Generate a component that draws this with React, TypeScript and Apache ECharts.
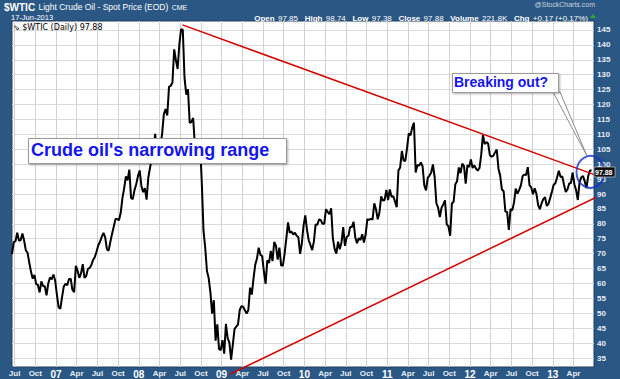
import React, { useEffect, useRef } from "react";
import * as echarts from "echarts";

// WTI weekly closes, one row per month, starting Jun 2006 (month index 5 counted from Jan 2006)
const FIRST_MONTH = 5;
const weeklyCloses: number[][] = [
  [71.0, 70.2, 70.0, 73.9], // Jun 06
  [74.1, 77.0, 74.4, 74.5],
  [76.8, 74.4, 71.1, 70.3],
  [67.0, 63.9, 61.6, 62.9],
  [59.8, 59.5, 57.0, 60.7],
  [59.1, 59.1, 56.0, 60.0],
  [62.0, 61.4, 63.0, 61.0],
  [56.3, 52.0, 51.5, 55.4], // Jan 07
  [59.0, 59.9, 59.4, 61.4],
  [61.6, 57.9, 57.1, 65.9],
  [64.3, 61.9, 63.4, 66.5],
  [61.9, 62.5, 64.9, 65.2],
  [66.2, 67.9, 68.9, 70.7],
  [72.8, 74.0, 75.6, 77.0],
  [75.5, 71.5, 71.0, 74.0],
  [76.7, 79.1, 81.6, 81.6],
  [81.2, 83.7, 88.6, 91.9],
  [95.9, 94.6, 98.2, 88.7],
  [88.3, 91.3, 93.3, 96.0],
  [97.9, 92.7, 90.6, 92.0], // Jan 08
  [88.1, 95.5, 98.8, 101.8],
  [105.2, 110.2, 101.8, 105.6],
  [106.2, 110.1, 116.7, 118.5],
  [116.3, 125.9, 126.3, 127.4],
  [138.5, 134.9, 131.9, 140.2],
  [145.3, 145.0, 128.9, 123.3],
  [125.1, 113.8, 114.2, 115.5],
  [106.2, 101.2, 104.6, 106.9],
  [93.9, 77.7, 71.9, 64.2],
  [61.8, 57.0, 49.9, 54.4],
  [40.8, 46.3, 38.0, 37.7],
  [41.0, 36.5, 46.5, 41.7], // Jan 09
  [40.2, 34.5, 39.5, 44.8],
  [45.5, 46.3, 51.1, 52.4],
  [52.2, 51.0, 49.9, 51.1],
  [58.6, 56.3, 61.7, 66.3],
  [68.4, 72.0, 69.6, 69.2],
  [64.1, 59.9, 67.8, 66.9],
  [70.9, 67.5, 73.9, 72.7],
  [68.0, 72.0, 66.0, 66.0],
  [69.9, 75.0, 80.5, 77.0],
  [77.4, 76.4, 77.0, 76.0],
  [75.5, 69.9, 73.4, 79.4],
  [82.8, 78.0, 74.5, 72.9], // Jan 10
  [71.2, 74.1, 79.8, 79.7],
  [81.5, 81.2, 80.0, 80.0],
  [84.9, 84.0, 83.2, 85.2],
  [75.1, 71.6, 70.0, 74.0],
  [71.5, 73.8, 78.9, 72.6],
  [75.6, 76.0, 78.9, 78.9],
  [80.7, 75.4, 73.5, 75.2],
  [74.6, 76.5, 73.7, 76.5],
  [81.6, 81.3, 81.7, 81.4],
  [86.9, 84.9, 81.5, 83.8],
  [89.2, 87.8, 88.0, 91.4],
  [88.0, 91.5, 89.1, 89.3], // Jan 11
  [87.5, 85.6, 97.9, 98.9],
  [104.4, 101.2, 101.1, 105.4],
  [110.3, 109.7, 112.3, 113.9],
  [97.2, 99.7, 99.5, 100.6],
  [99.3, 92.9, 91.2, 95.4],
  [96.2, 97.2, 99.9, 95.7],
  [86.9, 85.4, 82.3, 85.4],
  [86.5, 87.9, 79.8, 79.2],
  [76.0, 86.8, 87.4, 93.3],
  [94.3, 98.9, 97.0, 100.2],
  [99.4, 93.5, 99.7, 99.0],
  [101.6, 98.7, 99.6, 98.5], // Jan 12
  [97.8, 98.7, 103.2, 109.8],
  [106.7, 107.4, 106.9, 103.0],
  [102.5, 102.8, 103.9, 104.9],
  [98.5, 96.1, 91.5, 90.9],
  [84.1, 84.0, 78.0, 84.96],
  [84.5, 87.1, 91.8, 90.1],
  [91.4, 92.9, 96.0, 96.5],
  [96.4, 99.0, 92.9, 92.2],
  [89.9, 91.9, 90.1, 86.3],
  [84.9, 86.9, 88.3, 88.9],
  [86.0, 86.7, 88.7, 90.8],
  [93.1, 93.6, 95.6, 97.8], // Jan 13
  [95.7, 95.9, 93.1, 90.7],
  [91.5, 93.5, 93.7, 97.2],
  [93.3, 91.3, 88.0, 94.0],
  [95.6, 96.0, 94.3, 91.97],
  [96.0, 97.9, 97.88], // Jun 13
];

const xTickMonths = [6, 9, 12, 15, 18, 21, 24, 27, 30, 33, 36, 39, 42, 45, 48, 51, 54, 57, 60, 63, 66, 69, 72, 75, 78, 81, 84, 87];
const yTicks = [35, 40, 45, 50, 55, 60, 65, 70, 75, 80, 85, 90, 95, 100, 105, 110, 115, 120, 125, 130, 135, 140, 145];
const monthNames = ["Jan", "Feb", "Mar", "Apr", "May", "Jun", "Jul", "Aug", "Sep", "Oct", "Nov", "Dec"];

// trend lines: [month index, price]
const upperTrend = [[30.33, 146.7], [90.11, 96.4]];
const lowerTrend = [[37.21, 29.6], [91.56, 90.3]];
const circleMark = [[89.46, 97.4]];

const FONT = "Liberation Sans, Arial, sans-serif";

export default function App() {
  const ref = useRef<HTMLDivElement>(null);
  useEffect(() => {
    if (!ref.current) return;
    const chart = echarts.init(ref.current, undefined, { renderer: "svg" });
    const priceData: number[][] = [];
    weeklyCloses.forEach((row, i) => {
      row.forEach((v, k) => {
        priceData.push([FIRST_MONTH + i + (k + 0.5) / 4, v]);
      });
    });

    const option: any = {
      animation: false,
      backgroundColor: "#2a5784",
      grid: {
        left: 12,
        right: 26,
        top: 21,
        bottom: 12,
        show: true,
        backgroundColor: "#ffffff",
        borderColor: "#1e3f60",
        borderWidth: 1,
      },
      xAxis: {
        type: "value",
        min: 5.62,
        max: 89.97,
        axisLine: { show: false },
        axisTick: { show: false, customValues: xTickMonths },
        axisLabel: {
          customValues: xTickMonths,
          color: "#e6edf5",
          fontSize: 8,
          fontWeight: "bold",
          fontFamily: FONT,
          margin: 2,
          formatter: (v: number) => {
            const m = Math.round(v);
            const mo = ((m % 12) + 12) % 12;
            if (mo === 0) {
              const yr = 2006 + Math.floor(m / 12);
              return "{yr|" + String(yr % 100).padStart(2, "0") + "}";
            }
            return monthNames[mo];
          },
          rich: {
            yr: { color: "#ffffff", fontSize: 10, fontWeight: "bold", fontFamily: FONT },
          },
        },
        splitLine: { show: true, lineStyle: { color: "#d2d2d2", width: 1 } },
      },
      yAxis: {
        type: "value",
        position: "right",
        min: 32,
        max: 148,
        axisLine: { show: false },
        axisTick: { show: false, customValues: yTicks },
        axisLabel: {
          customValues: yTicks,
          color: "#e6edf5",
          fontSize: 8,
          fontWeight: "bold",
          fontFamily: FONT,
          margin: 3,
        },
        splitLine: { show: true, lineStyle: { color: "#dadada", width: 1 } },
      },
      series: [
        {
          type: "line",
          data: priceData,
          symbol: "none",
          lineStyle: { color: "#000000", width: 2 },
          z: 3,
          silent: true,
        },
        {
          type: "line",
          data: upperTrend,
          symbol: "none",
          clip: false,
          lineStyle: { color: "#d40000", width: 1.5 },
          z: 4,
          silent: true,
        },
        {
          type: "line",
          data: lowerTrend,
          symbol: "none",
          clip: false,
          lineStyle: { color: "#d40000", width: 1.5 },
          z: 4,
          silent: true,
        },
        {
          type: "scatter",
          data: circleMark,
          symbol: "circle",
          symbolSize: [28, 32],
          clip: false,
          itemStyle: { color: "rgba(0,0,0,0)", borderColor: "#1432c8", borderWidth: 2 },
          z: 6,
          silent: true,
        },
      ],
      graphic: [
        // header
        {
          type: "text",
          left: 4,
          top: 1,
          style: {
            text: "{a|$WTIC} {b|Light Crude Oil - Spot Price (EOD)} {c|CME}",
            rich: {
              a: { fill: "#ffffff", fontSize: 10, fontWeight: "bold", fontFamily: FONT },
              b: { fill: "#ffffff", fontSize: 8.5, fontFamily: FONT },
              c: { fill: "#ffffff", fontSize: 7, fontFamily: FONT },
            },
          },
        },
        {
          type: "text",
          left: 11,
          top: 13,
          style: { text: "17-Jun-2013", fill: "#ffffff", fontSize: 7.5, fontFamily: FONT },
        },
        {
          type: "text",
          right: 25,
          top: 1,
          style: { text: "@StockCharts.com", fill: "#c9d3de", fontSize: 7, fontFamily: FONT },
        },
        {
          type: "text",
          right: 32,
          top: 12,
          style: {
            text:
              "{k|Open} {v|97.85}  {k|High} {v|98.74}  {k|Low} {v|97.38}  {k|Close} {v|97.88}  {k|Volume} {v|221.8K}  {k|Chg} {v|+0.17 (+0.17%)}",
            rich: {
              k: { fill: "#ffffff", fontSize: 8, fontWeight: "bold", fontFamily: FONT },
              v: { fill: "#ffffff", fontSize: 8, fontFamily: FONT },
            },
          },
        },
        {
          type: "polygon",
          shape: { points: [[590, 18], [596, 18], [593, 14]] },
          style: { fill: "#2ea82e" },
        },
        // legend text inside plot
        {
          type: "text",
          left: 13,
          top: 23,
          z: 10,
          style: { text: "\u21D8 $WTIC (Daily) 97.88", fill: "#000000", fontSize: 8, fontFamily: "DejaVu Sans, sans-serif" },
        },
        // callout 1
        {
          type: "rect",
          shape: { x: 28.5, y: 138.5, width: 258, height: 25 },
          style: { fill: "#ffffff", stroke: "#9a9a9a", lineWidth: 1, shadowBlur: 2, shadowColor: "rgba(0,0,0,0.3)", shadowOffsetX: 1, shadowOffsetY: 1 },
          z: 20,
        },
        {
          type: "text",
          left: 31,
          top: 141,
          z: 21,
          style: { text: "Crude oil's narrowing range", fill: "#1414f0", fontSize: 18, fontWeight: "bold", fontFamily: FONT },
        },
        // callout 2 pointer
        {
          type: "polygon",
          shape: { points: [[553, 92], [587, 156], [560, 92]] },
          style: { fill: "#ffffff", stroke: "#8c8c8c", lineWidth: 1 },
          z: 19,
        },
        {
          type: "rect",
          shape: { x: 452.5, y: 73.5, width: 106, height: 19 },
          style: { fill: "#ffffff", stroke: "#9a9a9a", lineWidth: 1, shadowBlur: 2, shadowColor: "rgba(0,0,0,0.3)", shadowOffsetX: 1, shadowOffsetY: 1 },
          z: 20,
        },
        {
          type: "text",
          left: 454,
          top: 75,
          z: 21,
          style: { text: "Breaking out?", fill: "#1414f0", fontSize: 14, fontWeight: "bold", fontFamily: FONT },
        },
        // price tag
        {
          type: "rect",
          shape: { x: 594, y: 167, width: 21, height: 10 },
          style: { fill: "#111111", stroke: "#ffffff", lineWidth: 0.5 },
          z: 20,
        },
        {
          type: "text",
          left: 595,
          top: 168.5,
          z: 21,
          style: { text: "97.88", fill: "#ffffff", fontSize: 7, fontWeight: "bold", fontFamily: FONT },
        },
      ],
    };
    chart.setOption(option);
    return () => chart.dispose();
  }, []);
  return <div ref={ref} style={{ position: "fixed", left: 0, top: 0, width: 620, height: 379 }} />;
}
